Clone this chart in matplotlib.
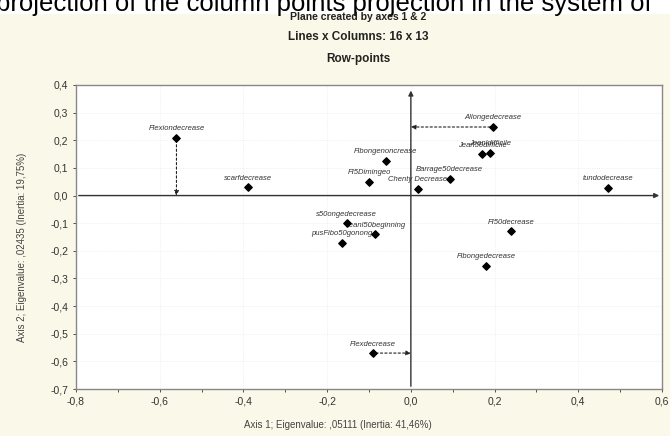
import matplotlib
matplotlib.use("Agg")
import matplotlib.pyplot as plt
from matplotlib.patches import Rectangle
from matplotlib.ticker import FuncFormatter, MultipleLocator

# row points (axis 1, axis 2) and their labels
x_coords = [-0.56, -0.39, 0.196, 0.17, 0.19, -0.06, -0.10, 0.093, 0.017,
            0.47, 0.24, 0.18, -0.153, -0.086, -0.165, -0.09]
y_coords = [0.21, 0.03, 0.248, 0.15, 0.155, 0.125, 0.05, 0.06, 0.024,
            0.028, -0.13, -0.255, -0.10, -0.14, -0.17, -0.57]
labels = ["Flexiondecrease", "scarfdecrease", "Allongedecrease", "Jean50difficile",
          "Jeanldifficile", "Fibongenoncrease", "FI5Dimingeo", "Barrage50decrease",
          "Chenty Decrease", "tundodecrease", "FI50decrease", "Fibongedecrease",
          "s50ongedecrease", "Jeanl50beginning", "pusFibo50gonong", "Flexdecrease"]
# indices of points projected on an axis with a dashed arrow: (index, "x" or "y")
projected = [(0, "y"), (2, "x"), (15, "x")]

BG = "#faf8e8"
W, H = 670, 436
fig = plt.figure(figsize=(W / 100, H / 100), dpi=100, facecolor=BG)
fig.patches.append(Rectangle((0, 1 - 14 / H), 1, 14 / H, transform=fig.transFigure,
                             facecolor="white", edgecolor="none", zorder=0))
fig.text(-0.006, 1 - 11 / H, "projection of the column points projection in the system of",
         fontsize=18.5, family="Liberation Sans", va="baseline", ha="left", color="black")

narrow = ["Liberation Sans Narrow", "Liberation Sans", "DejaVu Sans"]
fig.text(0.535, 1 - 17 / H, "Plane created by axes 1 & 2", fontsize=7.5, weight="bold",
         ha="center", va="center", family=narrow, color="#222222")
fig.text(0.535, 1 - 37 / H, "Lines x Columns: 16 x 13", fontsize=8.5, weight="bold",
         ha="center", va="center", family=narrow, color="#222222")
fig.text(0.535, 1 - 59 / H, "Row-points", fontsize=8.5, weight="bold",
         ha="center", va="center", family=narrow, color="#222222")

ax = fig.add_axes([76 / W, 1 - 389 / H, (662 - 76) / W, (389 - 85) / H])
ax.set_facecolor("white")
ax.set_xlim(-0.8, 0.6)
ax.set_ylim(-0.7, 0.4)
ax.xaxis.set_major_locator(MultipleLocator(0.2))
ax.yaxis.set_major_locator(MultipleLocator(0.1))
ax.xaxis.set_minor_locator(MultipleLocator(0.1))
fmt = FuncFormatter(lambda v, p: f"{v:.1f}".replace(".", ",").replace("-0,0", "0,0"))
ax.xaxis.set_major_formatter(fmt)
ax.yaxis.set_major_formatter(fmt)
ax.tick_params(labelsize=7.5, colors="#333333", length=2, width=0.6, which="both")
for lab in ax.get_xticklabels() + ax.get_yticklabels():
    lab.set_family(narrow)
ax.grid(True, which="major", ls=":", lw=0.5, color="#e6e6e6")
for s in ax.spines.values():
    s.set_color("#888888")
    s.set_linewidth(1.0)

# central axes with arrows
ax.annotate("", xy=(0.6, 0), xytext=(-0.8, 0),
            arrowprops=dict(arrowstyle="-|>", color="#333333", lw=1.0, mutation_scale=7))
ax.annotate("", xy=(0, 0.39), xytext=(0, -0.7),
            arrowprops=dict(arrowstyle="-|>", color="#333333", lw=1.0, mutation_scale=7))

for i, d in projected:
    end = (x_coords[i], 0) if d == "y" else (0, y_coords[i])
    ax.annotate("", xy=end, xytext=(x_coords[i], y_coords[i]),
                arrowprops=dict(arrowstyle="-|>", ls=(0, (2, 2)), color="#222222",
                                lw=0.8, mutation_scale=7, shrinkA=2, shrinkB=0))

ax.scatter(x_coords, y_coords, s=14, marker="D", color="black", zorder=5)
for xv, yv, t in zip(x_coords, y_coords, labels):
    ax.annotate(t, (xv, yv), xytext=(0, 4), textcoords="offset points",
                ha="center", va="bottom", fontsize=5.5, style="italic",
                family=narrow, color="#333333")

fig.text(338 / W, 1 - 425 / H, "Axis 1; Eigenvalue: ,05111 (Inertia: 41,46%)",
         fontsize=7, ha="center", va="center", family=narrow, color="#444444")
fig.text(22 / W, 1 - 247 / H, "Axis 2; Eigenvalue: ,02435 (Inertia: 19,75%)",
         fontsize=7, ha="center", va="center", rotation=90, family=narrow, color="#444444")

fig.savefig("out.png", dpi=100, facecolor=BG)
